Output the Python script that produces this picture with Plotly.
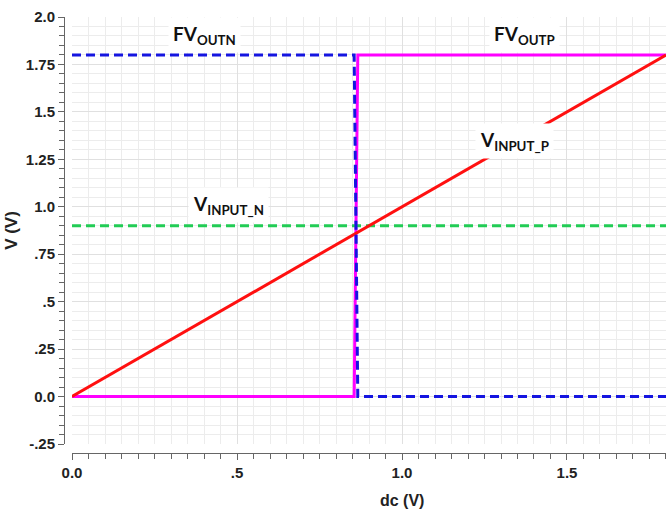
import plotly.graph_objects as go

# ---- data ----
dc_outn = [0.0, 0.855, 0.866, 1.8]
v_outn = [1.8, 1.8, 0.0, 0.0]
dc_outp = [0.0, 0.855, 0.866, 1.8]
v_outp = [0.0, 0.0, 1.8, 1.8]
dc_inp = [0.0, 1.8]
v_inp = [0.0, 1.8]
dc_inn = [0.0, 1.8]
v_inn = [0.9, 0.9]

y_tickvals = [-0.25, 0.0, 0.25, 0.5, 0.75, 1.0, 1.25, 1.5, 1.75, 2.0]
y_ticktext = ["-.25", "0.0", ".25", ".5", ".75", "1.0", "1.25", "1.5", "1.75", "2.0"]
x_tickvals = [0.0, 0.5, 1.0, 1.5]
x_ticktext = ["0.0", ".5", "1.0", "1.5"]

XR = [0, 1.8]
YR = [-0.25, 2.0]

tickfont = dict(family="Liberation Sans Narrow, Arial Narrow, Liberation Sans, Arial",
                size=15, color="#222222", weight="bold")
labfont = dict(family="Lato, Open Sans, Arial", size=19, color="#111111", weight="bold")

fig = go.Figure()
fig.add_trace(go.Scatter(x=dc_outp, y=v_outp, mode="lines", name="FV_OUTP",
                         line=dict(color="#ff00ff", width=3)))
fig.add_trace(go.Scatter(x=dc_inn, y=v_inn, mode="lines", name="V_INPUT_N",
                         line=dict(color="#22cc55", width=3, dash="9px,5px")))
fig.add_trace(go.Scatter(x=dc_inp, y=v_inp, mode="lines", name="V_INPUT_P",
                         line=dict(color="#ff1010", width=3)))
fig.add_trace(go.Scatter(x=dc_outn, y=v_outn, mode="lines", name="FV_OUTN",
                         line=dict(color="#1515e0", width=3, dash="9px,5px")))
# invisible trace to carry the detached tick axes
fig.add_trace(go.Scatter(x=[XR[0]], y=[YR[0]], xaxis="x2", yaxis="y2", mode="markers",
                         marker=dict(opacity=0), hoverinfo="skip", showlegend=False))

grid_minor = "#ececec"
grid_major = "#e0e0e0"

fig.update_layout(
    width=667, height=514,
    margin=dict(l=64, r=1, t=17, b=61),
    paper_bgcolor="white", plot_bgcolor="white",
    showlegend=False,
    xaxis=dict(range=XR, domain=[0.0133, 1], showticklabels=False, ticks="",
               showline=False, zeroline=False,
               dtick=0.5, tick0=0, showgrid=True, gridcolor=grid_major, gridwidth=1,
               minor=dict(dtick=0.05, showgrid=True, gridcolor=grid_minor, gridwidth=1)),
    yaxis=dict(range=YR, domain=[0.0206, 1], showticklabels=False, ticks="",
               showline=False, zeroline=False,
               dtick=0.25, tick0=0, showgrid=True, gridcolor=grid_major, gridwidth=1,
               minor=dict(dtick=0.05, showgrid=True, gridcolor=grid_minor, gridwidth=1)),
    xaxis2=dict(range=XR, overlaying="x", anchor="free", position=0,
                showline=True, linecolor="#666666", linewidth=1,
                ticks="outside", ticklen=6, tickcolor="#666666", tickwidth=1,
                tickvals=x_tickvals, ticktext=x_ticktext, tickfont=tickfont,
                showgrid=False, zeroline=False,
                minor=dict(dtick=0.05, tick0=0, ticks="outside", ticklen=5,
                           tickcolor="#666666", showgrid=False)),
    yaxis2=dict(range=YR, overlaying="y", anchor="free", position=0,
                showline=True, linecolor="#666666", linewidth=1,
                ticks="outside", ticklen=6, tickcolor="#666666", tickwidth=1,
                tickvals=y_tickvals, ticktext=y_ticktext, tickfont=tickfont,
                showgrid=False, zeroline=False,
                title=dict(text="V (V)", font=dict(family="Liberation Sans, Arial", size=17,
                                                   color="#222222", weight="bold"),
                           standoff=2),
                minor=dict(dtick=0.05, tick0=0, ticks="outside", ticklen=5,
                           tickcolor="#666666", showgrid=False)),
)

annots = [
    ("<b>FV<sub>OUTN</sub></b>", 0.403, 1.905),
    ("<b>FV<sub>OUTP</sub></b>", 1.37, 1.905),
    ("<b>V<sub>INPUT_P</sub></b>", 1.342, 1.345),
    ("<b>V<sub>INPUT_N</sub></b>", 0.473, 1.01),
]
for txt, x, y in annots:
    fig.add_annotation(text=txt, x=x, y=y, xref="x", yref="y", showarrow=False,
                       xanchor="center", yanchor="middle", font=labfont,
                       bgcolor="white", borderpad=4)

fig.add_annotation(text="dc (V)", x=0.561, y=-0.108, xref="paper", yref="paper",
                   showarrow=False, xanchor="center", yanchor="middle",
                   font=dict(family="Liberation Sans Narrow, Arial Narrow, Liberation Sans, Arial",
                             size=16, color="#222222", weight="bold"))

fig.write_html("out.html")
